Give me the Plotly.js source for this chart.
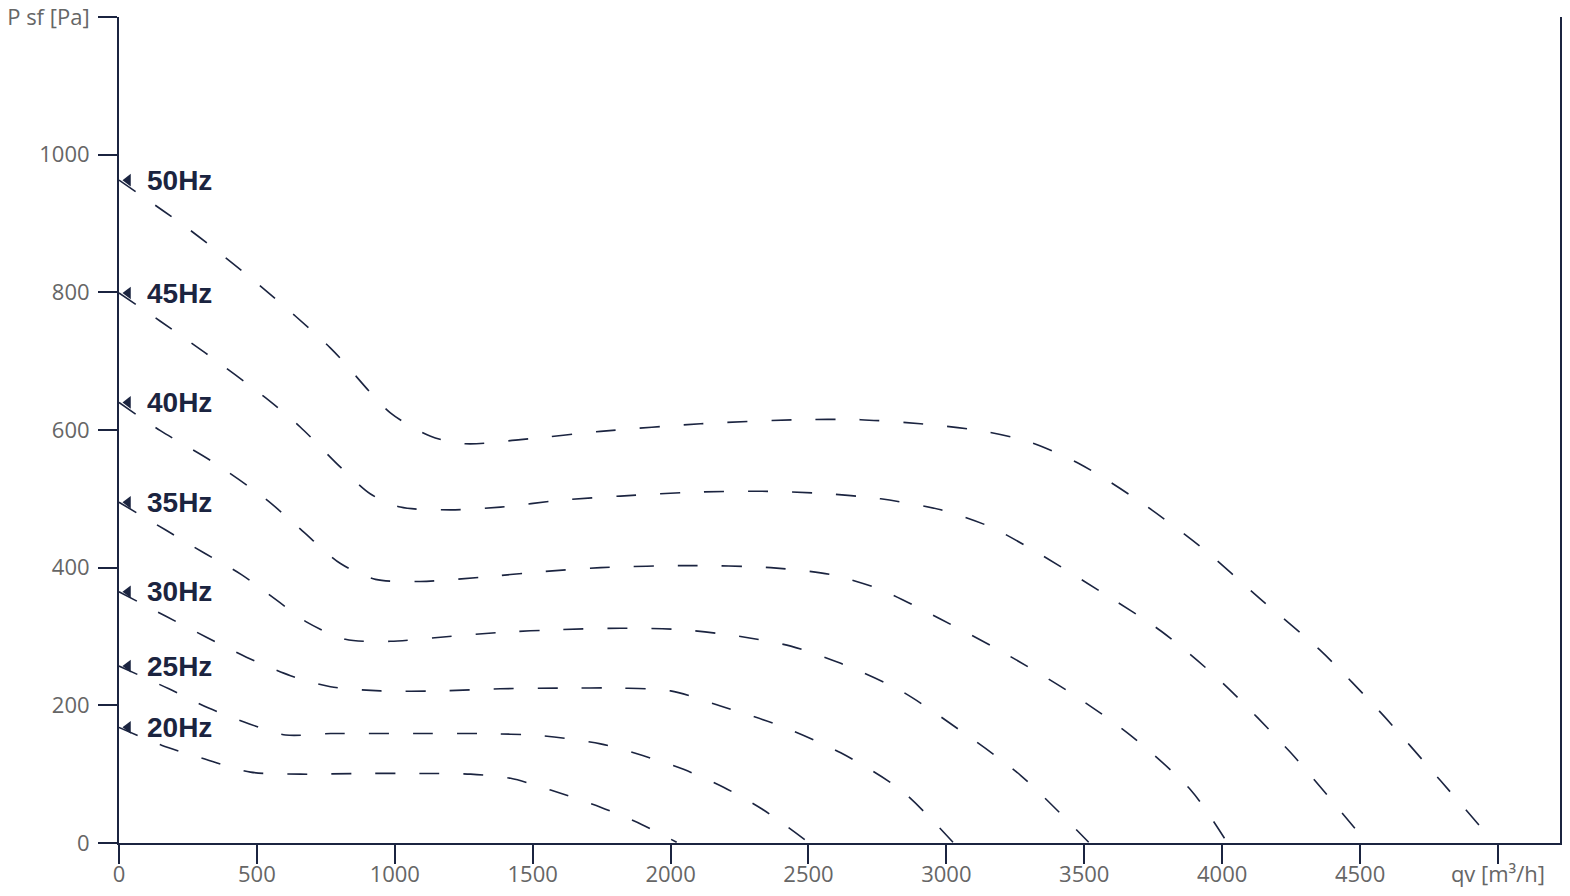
<!DOCTYPE html>
<html>
<head>
<meta charset="utf-8">
<script src="https://cdn.plot.ly/plotly-3.0.1.min.js"></script>
<style>html,body{margin:0;padding:0;background:#fff;}#chart{width:1570px;height:896px;}</style>
</head>
<body>
<div id="chart"></div>
<script>
// Curve labels
const labels = ["50Hz", "45Hz", "40Hz", "35Hz", "30Hz", "25Hz", "20Hz"];

// Air flow qv [m3/h] for each curve
const qv50 = [0, 259, 513, 767, 984, 1130, 1256, 1456, 1746, 2109, 2471, 2689, 2906, 3124, 3306, 3487, 3705, 3923, 4140, 4358, 4576, 4793, 4938];
const qv45 = [0, 150, 313, 531, 658, 803, 912, 1020, 1202, 1383, 1601, 1818, 2109, 2327, 2545, 2762, 2980, 3161, 3342, 3560, 3778, 3995, 4249, 4492];
const qv40 = [0, 150, 331, 531, 658, 803, 930, 1093, 1310, 1528, 1746, 2073, 2363, 2580, 2762, 2980, 3197, 3451, 3669, 3886, 4013];
const qv35 = [0, 168, 306, 444, 574, 676, 821, 984, 1166, 1383, 1601, 1818, 2036, 2254, 2436, 2617, 2835, 3052, 3270, 3516];
const qv30 = [0, 172, 317, 462, 622, 767, 948, 1166, 1383, 1601, 1818, 2000, 2181, 2399, 2617, 2835, 3024];
const qv25 = [0, 181, 325, 473, 604, 767, 1093, 1310, 1528, 1746, 1899, 2047, 2192, 2333, 2500];
const qv20 = [0, 154, 302, 477, 658, 875, 1093, 1275, 1420, 1565, 1746, 1895, 2022];

// Static pressure P sf [Pa] for each curve
const ps50 = [963, 890, 809, 719, 625, 591, 580, 586, 598, 609, 615, 615, 609, 599, 582, 550, 495, 430, 354, 279, 189, 90, 23];
const ps45 = [799, 758, 712, 647, 604, 546, 507, 488, 484, 488, 498, 504, 510, 511, 508, 500, 484, 459, 419, 365, 308, 235, 131, 16];
const ps40 = [640, 599, 556, 500, 456, 406, 383, 380, 386, 394, 400, 403, 400, 390, 368, 325, 279, 218, 156, 77, 4];
const ps35 = [495, 455, 422, 390, 352, 322, 296, 293, 299, 306, 310, 312, 310, 300, 286, 261, 221, 163, 98, 1];
const ps30 = [365, 329, 299, 270, 243, 227, 221, 221, 224, 225, 225, 221, 199, 170, 131, 77, 1];
const ps25 = [257, 224, 196, 173, 157, 159, 159, 159, 156, 144, 127, 107, 81, 49, 1];
const ps20 = [168, 142, 123, 103, 100, 101, 101, 100, 94, 77, 52, 27, 1];

// Axis ticks
const xTickVals = [0, 500, 1000, 1500, 2000, 2500, 3000, 3500, 4000, 4500, 5000];
const xTickText = ["0", "500", "1000", "1500", "2000", "2500", "3000", "3500", "4000", "4500", "qv [m³/h]"];
const yTickVals = [0, 200, 400, 600, 800, 1000, 1200];
const yTickText = ["0", "200", "400", "600", "800", "1000", "P sf [Pa]"];

const qvs = [qv50, qv45, qv40, qv35, qv30, qv25, qv20];
const pss = [ps50, ps45, ps40, ps35, ps30, ps25, ps20];

const NAVY = "#1b2440";
const traces = [];
const annotations = [];

for (let i = 0; i < labels.length; i++) {
  traces.push({
    type: "scatter", mode: "lines",
    x: qvs[i], y: pss[i],
    line: { color: NAVY, width: 1.6, dash: "20px,24px", shape: "spline", smoothing: 0.8 },
    hoverinfo: "skip", showlegend: false
  });
  traces.push({
    type: "scatter", mode: "markers",
    x: [qvs[i][0]], y: [pss[i][0]],
    marker: { symbol: "triangle-up", angle: -90, standoff: 9, size: 11, color: NAVY, line: { width: 0 } },
    cliponaxis: false, hoverinfo: "skip", showlegend: false
  });
  annotations.push({
    x: qvs[i][0], y: pss[i][0], xref: "x", yref: "y",
    text: labels[i], showarrow: false, xanchor: "left", yanchor: "middle",
    xshift: 26,
    font: { family: "Liberation Sans, Arial, sans-serif", size: 28, color: NAVY, weight: "bold" }
  });
}

const tickFont = { family: "Open Sans, sans-serif", size: 22, color: "#666666" };

const layout = {
  width: 1570, height: 896,
  margin: { l: 119, r: 10, t: 17, b: 53, pad: 0 },
  paper_bgcolor: "#ffffff", plot_bgcolor: "#ffffff",
  showlegend: false,
  xaxis: {
    range: [0, 5225], tickmode: "array", tickvals: xTickVals, ticktext: xTickText,
    showgrid: false, zeroline: false, showline: true, linecolor: NAVY, linewidth: 2,
    ticks: "outside", ticklen: 19, tickwidth: 2, tickcolor: NAVY,
    tickfont: tickFont, ticklabelstandoff: -8, ticklabeloverflow: "allow", fixedrange: true
  },
  yaxis: {
    range: [0, 1200], tickmode: "array", tickvals: yTickVals, ticktext: yTickText,
    showgrid: false, zeroline: false, showline: true, linecolor: NAVY, linewidth: 2,
    mirror: true,
    ticks: "outside", ticklen: 19, tickwidth: 2, tickcolor: NAVY,
    tickfont: tickFont, ticklabelstandoff: 4, ticklabeloverflow: "allow", fixedrange: true
  },
  annotations: annotations
};

Plotly.newPlot("chart", traces, layout, { displayModeBar: false, staticPlot: true });
</script>
</body>
</html>
